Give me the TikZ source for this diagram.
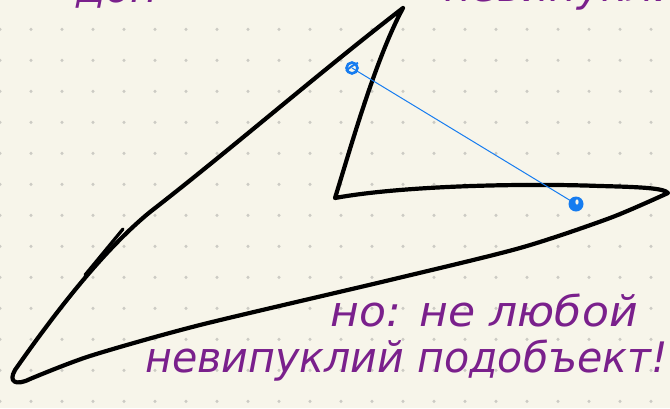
\documentclass[tikz,border=0pt]{standalone}
\usepackage{fontspec}
\newfontfamily\hand{DejaVu Sans}
\definecolor{paper}{RGB}{247,245,234}
\definecolor{dotc}{RGB}{204,203,196}
\definecolor{ink}{RGB}{122,32,140}
\definecolor{pen}{RGB}{22,124,240}
\tikzset{
  outline/.style={line width=4.2pt, line cap=round, line join=round, black},
  handtext/.style={text=ink, font=\hand\itshape\fontsize{42}{46}\selectfont, inner sep=0pt},
  penline/.style={pen, line width=1pt},
  penmark/.style={pen, line width=2.6pt}
}
\begin{document}
\begin{tikzpicture}[x=1pt,y=-1pt]
\useasboundingbox (0,0) rectangle (670,408);
\clip (0,0) rectangle (670,408);
\fill[paper] (0,0) rectangle (670,408);
% dot grid
\foreach \i in {0,...,21} {
  \foreach \j in {0,...,12} {
    \fill[dotc] (31*\i, 29.3+31*\j) circle (1.7);
  }
}
% top text (cut off at the top edge, as in the reference)
\node[handtext, anchor=base west] (topl) at (76,2) {доп};
\node[handtext, anchor=base west] (topr) at (444,1) {невипуклим};
% shape
\draw[outline] (403,8) .. controls (320,72) and (230,150) .. (150,212)
  .. controls (100,253) and (50,320) .. (15,370)
  .. controls (8,382) and (16,386) .. (30,379)
  plot[smooth, tension=0.45] coordinates {(30,379) (90,356) (200,325) (390,280) (520,248) (610,218) (668,193)}
  .. controls (664,188) and (640,187) .. (600,186)
  .. controls (520,183) and (400,186) .. (335,198)
  .. controls (350,150) and (375,60) .. (403,8);
% small tick on the long edge
\draw[outline, line width=3.2pt] (85,275) -- (123,229);
% blue segment
\coordinate (p) at (352,68);
\coordinate (q) at (576,204);
\draw[penline] (p) -- (q);
\draw[penmark] (p) circle (5.5);
\draw[pen, line width=2pt] (346,71) .. controls (350,67) and (355,64) .. (358,63);
\fill[pen] (q) circle (7.5);
\fill[paper] (577,202) ellipse (1.6 and 2.6);
% bottom text
\node[handtext, anchor=base west, xscale=1.05] (l1) at (330,326) {но: не любой};
\node[handtext, anchor=base west, xscale=0.98] (l2) at (145,372) {невипуклий подобъект!};
\end{tikzpicture}
\end{document}
